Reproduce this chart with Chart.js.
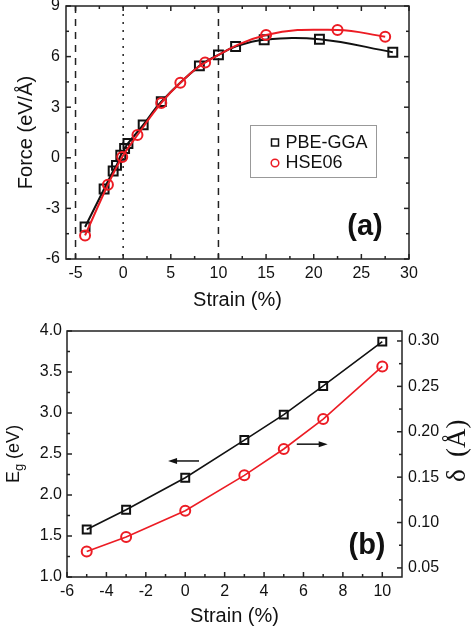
<!DOCTYPE html>
<html>
<head>
<meta charset="utf-8">
<script src="https://cdn.jsdelivr.net/npm/chart.js@4.4.0/dist/chart.umd.min.js"></script>
<style>
  html, body { margin: 0; padding: 0; background: #fff; }
  body { width: 475px; height: 634px; position: relative; overflow: hidden; }
  #wrapA { position: absolute; left: 0; top: -12px; width: 475px; height: 329px; }
  #wrapB { position: absolute; left: 0; top: 297px; width: 475px; height: 337px; }
</style>
</head>
<body>
<div id="wrapA"><canvas id="chartA" width="475" height="329"></canvas></div>
<div id="wrapB"><canvas id="chartB" width="475" height="337"></canvas></div>
<script>
// panel (a): force vs strain
const strainPBE = [-4.0, -2.0, -1.05, -0.7, -0.25, 0.15, 0.5, 2.1, 4.0, 8.0, 10.0, 11.8, 14.8, 20.6, 28.3];
const forcePBE  = [-4.1, -1.85, -0.78, -0.45, 0.15, 0.55, 0.85, 1.95, 3.33, 5.45, 6.1, 6.6, 7.0, 7.03, 6.26];
const strainHSE = [-4.0, -1.6, -0.1, 1.5, 4.0, 6.0, 8.6, 15.0, 22.5, 27.5];
const forceHSE  = [-4.6, -1.6, 0.05, 1.35, 3.25, 4.45, 5.65, 7.28, 7.58, 7.18];
const strainTicksA = [-5, 0, 5, 10, 15, 20, 25, 30];
const forceTicks = [-6, -3, 0, 3, 6, 9];

// panel (b): band gap and delta vs strain
const strainB  = [-5, -3, 0, 3, 5, 7, 10];
const gapPBE   = [1.58, 1.82, 2.21, 2.67, 2.98, 3.33, 3.87];
const deltaHSE = [0.068, 0.084, 0.113, 0.152, 0.181, 0.214, 0.272];
const strainTicksB = [-6, -4, -2, 0, 2, 4, 6, 8, 10];
const gapTicks = [1.0, 1.5, 2.0, 2.5, 3.0, 3.5, 4.0];
const deltaTicks = [0.05, 0.10, 0.15, 0.20, 0.25, 0.30];

const RED = '#ec1c24';
const INK = '#111';
Chart.defaults.font.family = "'Liberation Sans', Arial, sans-serif";
Chart.defaults.color = INK;

const toXY = (xs, ys) => xs.map((x, i) => ({x: x, y: ys[i]}));
const fixTicks = (vals) => (s) => { s.ticks = vals.map(v => ({value: v})); };
const zeroPad = (s) => { s.paddingTop = 0; s.paddingBottom = 0; s.paddingLeft = 0; s.paddingRight = 0; };

// frame round the plot with inward ticks (major + minor halfway)
const frameTicks = {
    id: 'frameTicks',
    beforeDatasetsDraw(chart, args, opts) {
        const {ctx, chartArea: a, scales} = chart;
        ctx.save();
        ctx.strokeStyle = '#222';
        ctx.lineWidth = 1.5;
        ctx.strokeRect(a.left, a.top, a.right - a.left, a.bottom - a.top);
        opts.sides.forEach(([side, id]) => {
            const s = scales[id];
            const vals = s.ticks.map(t => t.value);
            const marks = [];
            vals.forEach((v, i) => {
                marks.push([v, 5]);
                if (i < vals.length - 1) marks.push([(v + vals[i + 1]) / 2, 3]);
            });
            marks.forEach(([v, len]) => {
                const p = s.getPixelForValue(v);
                ctx.beginPath();
                if (side === 'bottom') { ctx.moveTo(p, a.bottom); ctx.lineTo(p, a.bottom - len); }
                if (side === 'top') { ctx.moveTo(p, a.top); ctx.lineTo(p, a.top + len); }
                if (side === 'left') { ctx.moveTo(a.left, p); ctx.lineTo(a.left + len, p); }
                if (side === 'right') { ctx.moveTo(a.right, p); ctx.lineTo(a.right - len, p); }
                ctx.stroke();
            });
        });
        ctx.restore();
    }
};

// vertical guide lines in (a)
const refLines = [
    {x: -5, dash: [7, 6]},
    {x: 0, dash: [2, 6]},
    {x: 10, dash: [7, 6]}
];
const guides = {
    id: 'guides',
    beforeDatasetsDraw(chart) {
        const {ctx, chartArea: a, scales: {x}} = chart;
        ctx.save();
        ctx.strokeStyle = '#222';
        ctx.lineWidth = 1.5;
        refLines.forEach(r => {
            const p = x.getPixelForValue(r.x);
            ctx.setLineDash(r.dash);
            ctx.beginPath();
            ctx.moveTo(p, a.top);
            ctx.lineTo(p, a.bottom);
            ctx.stroke();
        });
        ctx.restore();
    }
};

// boxed legend in (a)
const boxLegend = {
    id: 'boxLegend',
    afterDatasetsDraw(chart) {
        const {ctx, chartArea: a} = chart;
        const bx = a.left + 184.5, by = a.top + 119.5;
        ctx.save();
        ctx.strokeStyle = '#999';
        ctx.lineWidth = 1;
        ctx.strokeRect(bx, by, 126, 52);
        ctx.lineWidth = 1.5;
        ctx.strokeStyle = INK;
        ctx.strokeRect(bx + 21, by + 13.5, 7, 7);
        ctx.strokeStyle = RED;
        ctx.beginPath();
        ctx.arc(bx + 24.5, by + 37.5, 3.8, 0, Math.PI * 2);
        ctx.stroke();
        ctx.fillStyle = INK;
        ctx.font = "18px 'Liberation Sans', Arial, sans-serif";
        ctx.textBaseline = 'middle';
        ctx.fillText('PBE-GGA', bx + 35, by + 17.5);
        ctx.fillText('HSE06', bx + 35, by + 38);
        ctx.restore();
    }
};

// panel letter
const panelTag = {
    id: 'panelTag',
    afterDraw(chart, args, opts) {
        const {ctx, chartArea: a} = chart;
        ctx.save();
        ctx.fillStyle = INK;
        ctx.font = "bold 29px 'Liberation Sans', Arial, sans-serif";
        ctx.textAlign = 'center';
        ctx.textBaseline = 'middle';
        ctx.fillText(opts.text, a.left + opts.dx, a.top + opts.dy);
        ctx.restore();
    }
};

// arrows and rotated axis titles in (b)
const arrowsB = [
    {from: [0.7, 2.415], to: [-0.87, 2.415]},
    {from: [5.66, 2.62], to: [7.23, 2.62]}
];
const panelBExtras = {
    id: 'panelBExtras',
    afterDraw(chart) {
        const {ctx, chartArea: a, scales: {x, y}} = chart;
        ctx.save();
        ctx.strokeStyle = INK;
        ctx.fillStyle = INK;
        ctx.lineWidth = 1.5;
        arrowsB.forEach(ar => {
            const x0 = x.getPixelForValue(ar.from[0]), y0 = y.getPixelForValue(ar.from[1]);
            const x1 = x.getPixelForValue(ar.to[0]), y1 = y.getPixelForValue(ar.to[1]);
            const dir = Math.sign(x1 - x0);
            ctx.beginPath();
            ctx.moveTo(x0, y0);
            ctx.lineTo(x1 - dir * 6, y1);
            ctx.stroke();
            ctx.beginPath();
            ctx.moveTo(x1, y1);
            ctx.lineTo(x1 - dir * 9, y1 - 3);
            ctx.lineTo(x1 - dir * 9, y1 + 3);
            ctx.closePath();
            ctx.fill();
        });

        const cy = (a.top + a.bottom) / 2;
        // left title: E_g (eV)
        ctx.save();
        ctx.translate(18.5, cy);
        ctx.rotate(-Math.PI / 2);
        ctx.textBaseline = 'alphabetic';
        ctx.textAlign = 'left';
        const big = "18px 'Liberation Sans', Arial, sans-serif";
        const small = "13px 'Liberation Sans', Arial, sans-serif";
        ctx.font = big;
        const wE = ctx.measureText('E').width;
        const wRest = ctx.measureText(' (eV)').width;
        ctx.font = small;
        const wg = ctx.measureText('g').width;
        let sx = -(wE + wg + wRest) / 2;
        ctx.font = big;
        ctx.fillText('E', sx, 0);
        ctx.font = small;
        ctx.fillText('g', sx + wE, 4);
        ctx.font = big;
        ctx.fillText(' (eV)', sx + wE + wg, 0);
        ctx.restore();

        // right title: delta (A)
        ctx.save();
        ctx.translate(465, cy - 4);
        ctx.rotate(-Math.PI / 2);
        ctx.textBaseline = 'alphabetic';
        ctx.textAlign = 'left';
        ctx.font = "27px 'Liberation Serif', 'Times New Roman', serif";
        ctx.fillText('δ', -32, 0);
        ctx.fillText('(Å)', -7, 0);
        ctx.restore();
        ctx.restore();
    }
};

const tickFont = {size: 16};
const titleFont = {size: 20};

new Chart(document.getElementById('chartA').getContext('2d'), {
    type: 'scatter',
    data: {
        datasets: [{
            label: 'HSE06',
            data: toXY(strainHSE, forceHSE),
            showLine: true,
            tension: 0.4,
            borderColor: RED,
            borderWidth: 2,
            backgroundColor: 'rgba(0,0,0,0)',
            pointStyle: 'circle',
            pointRadius: 5,
            pointBorderWidth: 2,
            pointBorderColor: RED,
            pointBackgroundColor: 'rgba(0,0,0,0)'
        }, {
            label: 'PBE-GGA',
            data: toXY(strainPBE, forcePBE),
            showLine: true,
            tension: 0.4,
            borderColor: INK,
            borderWidth: 2,
            backgroundColor: 'rgba(0,0,0,0)',
            pointStyle: 'rect',
            pointRadius: 6.3,
            pointBorderWidth: 2,
            pointBorderColor: INK,
            pointBackgroundColor: 'rgba(0,0,0,0)'
        }]
    },
    options: {
        responsive: false,
        animation: false,
        layout: {padding: {top: 18, right: 66, left: 0, bottom: 0}},
        plugins: {
            legend: {display: false},
            tooltip: {enabled: false},
            frameTicks: {sides: [['bottom', 'x'], ['top', 'x'], ['left', 'y'], ['right', 'y']]},
            panelTag: {text: '(a)', dx: 299, dy: 221}
        },
        scales: {
            x: {
                type: 'linear', min: -6, max: 30,
                afterBuildTicks: fixTicks(strainTicksA),
                afterFit: (s) => { s.height = 58; zeroPad(s); },
                grid: {display: false, drawTicks: false},
                border: {display: false},
                ticks: {padding: 5, font: tickFont, color: INK, autoSkip: false, maxRotation: 0},
                title: {display: true, text: 'Strain (%)', font: titleFont, color: INK, padding: {top: 0, bottom: 5}}
            },
            y: {
                type: 'linear', min: -6, max: 9,
                afterBuildTicks: fixTicks(forceTicks),
                afterFit: (s) => { s.width = 66; zeroPad(s); },
                grid: {display: false, drawTicks: false},
                border: {display: false},
                ticks: {padding: 6, font: tickFont, color: INK, autoSkip: false},
                title: {display: true, text: 'Force (eV/Å)', font: titleFont, color: INK, padding: {top: 14, bottom: 0}}
            }
        }
    },
    plugins: [frameTicks, guides, boxLegend, panelTag]
});

new Chart(document.getElementById('chartB').getContext('2d'), {
    type: 'scatter',
    data: {
        datasets: [{
            label: 'Eg',
            data: toXY(strainB, gapPBE),
            yAxisID: 'y',
            showLine: true,
            borderColor: INK,
            borderWidth: 1.6,
            backgroundColor: 'rgba(0,0,0,0)',
            pointStyle: 'rect',
            pointRadius: 5.6,
            pointBorderWidth: 2,
            pointBorderColor: INK,
            pointBackgroundColor: 'rgba(0,0,0,0)'
        }, {
            label: 'delta',
            data: toXY(strainB, deltaHSE),
            yAxisID: 'y2',
            showLine: true,
            borderColor: RED,
            borderWidth: 1.6,
            backgroundColor: 'rgba(0,0,0,0)',
            pointStyle: 'circle',
            pointRadius: 5,
            pointBorderWidth: 2,
            pointBorderColor: RED,
            pointBackgroundColor: 'rgba(0,0,0,0)'
        }]
    },
    options: {
        responsive: false,
        animation: false,
        layout: {padding: {top: 34, right: 0, left: 0, bottom: 0}},
        plugins: {
            legend: {display: false},
            tooltip: {enabled: false},
            frameTicks: {sides: [['bottom', 'x'], ['left', 'y'], ['right', 'y2']]},
            panelTag: {text: '(b)', dx: 300, dy: 215}
        },
        scales: {
            x: {
                type: 'linear', min: -6, max: 11,
                afterBuildTicks: fixTicks(strainTicksB),
                afterFit: (s) => { s.height = 57; zeroPad(s); },
                grid: {display: false, drawTicks: false},
                border: {display: false},
                ticks: {padding: 5, font: tickFont, color: INK, autoSkip: false, maxRotation: 0},
                title: {display: true, text: 'Strain (%)', font: titleFont, color: INK, padding: {top: 0, bottom: 6}}
            },
            y: {
                type: 'linear', position: 'left', min: 1.0, max: 4.0,
                afterBuildTicks: fixTicks(gapTicks),
                afterFit: (s) => { s.width = 67; zeroPad(s); },
                grid: {display: false, drawTicks: false},
                border: {display: false},
                ticks: {padding: 5, font: tickFont, color: INK, autoSkip: false,
                        callback: (v) => v.toFixed(1)}
            },
            y2: {
                type: 'linear', position: 'right', min: 0.04, max: 0.311,
                afterBuildTicks: fixTicks(deltaTicks),
                afterFit: (s) => { s.width = 73; zeroPad(s); },
                grid: {display: false, drawTicks: false},
                border: {display: false},
                ticks: {padding: 6, font: tickFont, color: INK, autoSkip: false,
                        callback: (v) => v.toFixed(2)}
            }
        }
    },
    plugins: [frameTicks, panelTag, panelBExtras]
});
</script>
</body>
</html>
